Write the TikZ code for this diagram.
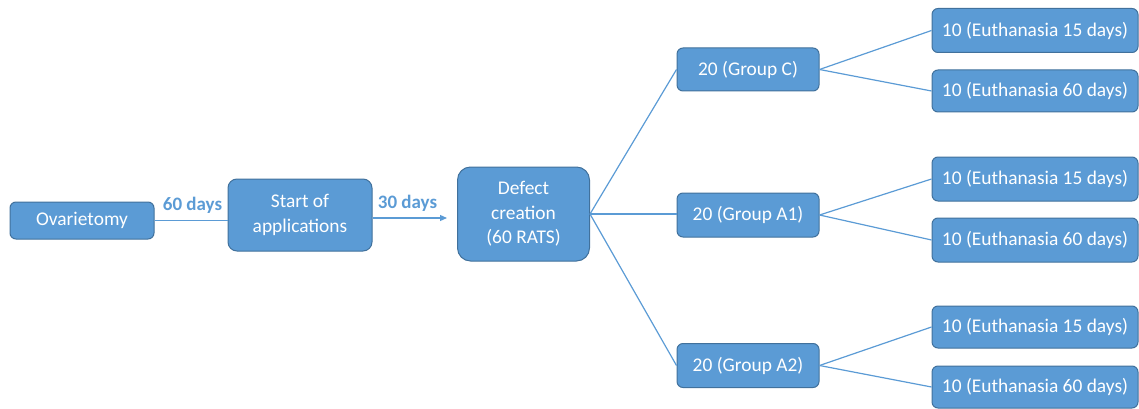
\documentclass[tikz,border=0pt]{standalone}
\usepackage{fontspec}
\setmainfont{Carlito}
\usetikzlibrary{arrows.meta}
\definecolor{boxfill}{HTML}{5B9BD5}
\definecolor{boxline}{HTML}{41719C}
\begin{document}
\begin{tikzpicture}[x=1pt,y=-1pt,
  box/.style={draw=boxline,line width=1pt,fill=boxfill,text=white,rounded corners=6pt,
    inner sep=0pt,align=center,font=\fontsize{19.4}{24.5}\selectfont},
  link/.style={draw=boxfill,line width=1.2pt},
  lbl/.style={text=boxfill,font=\fontsize{19}{22}\selectfont\bfseries}]
\useasboundingbox (0,0) rectangle (1139,409);
\node[box,minimum width=144pt,minimum height=37pt] (ov) at (82,220.5) {Ovarietomy};
\node[box,minimum width=144pt,minimum height=72pt,rounded corners=9pt] (st) at (300,215) {Start of\\applications};
\node[box,minimum width=132pt,minimum height=94pt,rounded corners=13pt] (dc) at (523.5,214) {Defect\\creation\\(60 RATS)};
\node[box,minimum width=142pt,minimum height=43pt] (gc) at (748,69.5) {20 (Group C)};
\node[box,minimum width=142pt,minimum height=44pt] (ga1) at (748,215) {20 (Group A1)};
\node[box,minimum width=142pt,minimum height=44pt] (ga2) at (748,365.5) {20 (Group A2)};
\node[box,minimum width=206pt,minimum height=44pt] (c15) at (1035,30.5) {10 (Euthanasia 15 days)};
\node[box,minimum width=206pt,minimum height=42pt] (c60) at (1035,91) {10 (Euthanasia 60 days)};
\node[box,minimum width=206pt,minimum height=44pt] (a115) at (1035,179) {10 (Euthanasia 15 days)};
\node[box,minimum width=206pt,minimum height=44pt] (a160) at (1035,240) {10 (Euthanasia 60 days)};
\node[box,minimum width=206pt,minimum height=42pt] (a215) at (1035,327) {10 (Euthanasia 15 days)};
\node[box,minimum width=206pt,minimum height=42pt] (a260) at (1035,387) {10 (Euthanasia 60 days)};
\coordinate (tip) at (447,218);
\draw[link] (ov.east) -- (ov.east -| st.west);
\draw[link,-{Triangle[length=7pt,width=6pt]}] (st.east |- tip) -- (tip);
\node[lbl] (l60) at (192.5,205.5) {60 days};
\node[lbl] (l30) at (407.5,203) {30 days};
\draw[link] (dc.east) -- (gc.west);
\draw[link] (dc.east) -- (dc.east -| ga1.west);
\draw[link] (dc.east) -- (ga2.west);
\draw[link] (gc.east) -- (c15.west);
\draw[link] (gc.east) -- (c60.west);
\draw[link] (ga1.east) -- (a115.west);
\draw[link] (ga1.east) -- (a160.west);
\draw[link] (ga2.east) -- (a215.west);
\draw[link] (ga2.east) -- (a260.west);
\end{tikzpicture}
\end{document}
